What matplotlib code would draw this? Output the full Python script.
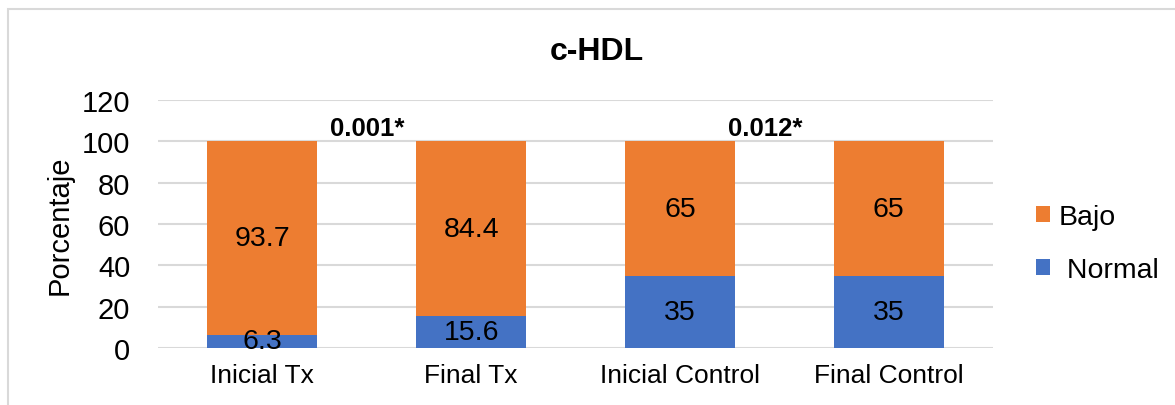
import matplotlib.pyplot as plt
from matplotlib.patches import Rectangle

plt.rcParams['font.family'] = ['Liberation Sans', 'DejaVu Sans']

categories = ['Inicial Tx', 'Final Tx', 'Inicial Control', 'Final Control']
normal = [6.3, 15.6, 35, 35]
bajo = [93.7, 84.4, 65, 65]
p_labels = ['0.001*', '0.012*']
p_x = [0.5, 2.41]
p_y = [106.5, 106.5]

blue = '#4472C4'
orange = '#ED7D31'

fig = plt.figure(figsize=(11.75, 4.06), dpi=100)
ax = fig.add_axes([0.1345, 0.1404, 0.7106, 0.6108])

x = range(len(categories))
b1 = ax.bar(x, normal, width=0.527, color=blue, label=' Normal', zorder=3)
b2 = ax.bar(x, bajo, width=0.527, bottom=normal, color=orange, label='Bajo', zorder=3)

# value labels in the middle of each segment
for i in x:
    ax.text(i, normal[i] / 2, f'{normal[i]:g}', ha='center', va='center',
            fontsize=20.5, zorder=4)
    ax.text(i, normal[i] + bajo[i] / 2, f'{bajo[i]:g}', ha='center', va='center',
            fontsize=20.5, zorder=4)

for lbl, px, py in zip(p_labels, p_x, p_y):
    ax.text(px, py, lbl, ha='center', va='center', fontsize=18.5,
            fontweight='bold', zorder=4)

ax.set_xlim(-0.5, 3.5)
ax.set_ylim(0, 120)
ax.set_yticks(range(0, 121, 20))
ax.set_xticks(list(x))
ax.set_xticklabels(categories)
ax.tick_params(axis='y', length=0, labelsize=21, pad=20)
ax.tick_params(axis='x', length=0, labelsize=19, pad=11)
ax.grid(axis='y', color='#D9D9D9', linewidth=1.5, zorder=0)
for s in ax.spines.values():
    s.set_visible(False)

ax.set_ylabel('Porcentaje', fontsize=21, labelpad=6)
fig.text(0.508, 0.872, 'c-HDL', ha='center', va='center', fontsize=23,
         fontweight='bold')

handles = [b2, b1]
fig.legend(handles, ['Bajo', ' Normal'], loc='center left',
           bbox_to_anchor=(0.860, 0.397), frameon=False, fontsize=20.5,
           handlelength=0.5, handleheight=0.5, handletextpad=0.3,
           labelspacing=0.95)

fig.add_artist(Rectangle((8 / 1175, -0.1), 1.1, 1.1 - 10 / 406,
                         transform=fig.transFigure, fill=False,
                         edgecolor='#D9D9D9', linewidth=1.5))

fig.savefig('out.png', dpi=100)
